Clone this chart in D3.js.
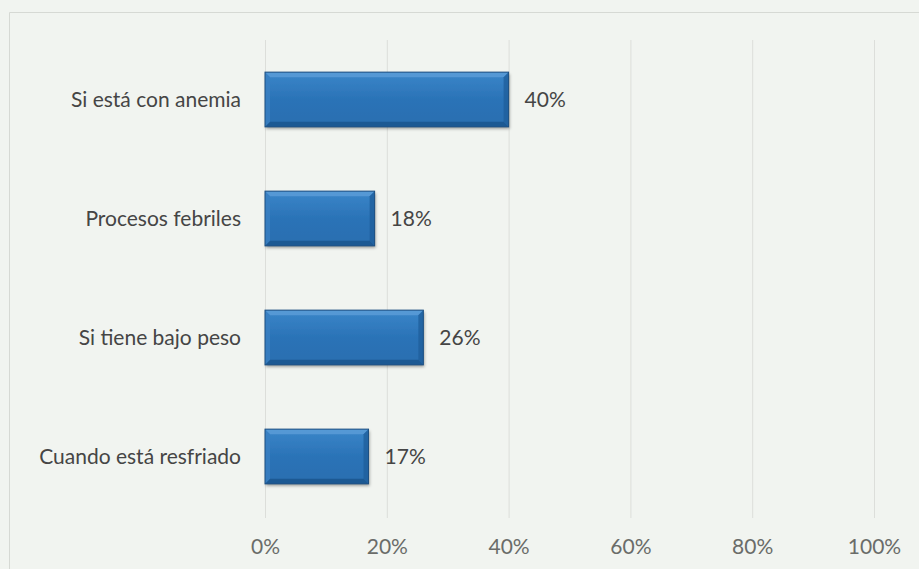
<!DOCTYPE html>
<html><head><meta charset="utf-8">
<script src="https://cdn.jsdelivr.net/npm/d3@7"></script>
<style>
html,body{margin:0;padding:0;background:#f1f4f0;}
svg{display:block;}
text{font-family:Lato,"Open Sans",sans-serif;}
</style></head>
<body>
<svg id="c" width="919" height="569"></svg>
<script>
const categories = ["Si está con anemia","Procesos febriles","Si tiene bajo peso","Cuando está resfriado"];
const values = [40, 18, 26, 17];
const valueLabels = ["40%","18%","26%","17%"];
const ticks = [0,20,40,60,80,100];

const svg = d3.select("#c");
const W = 919, H = 569;
svg.append("rect").attr("width",W).attr("height",H).attr("fill","#f1f4f0");
// chart frame
svg.append("path").attr("d","M9.5,569 V12.5 H919").attr("fill","none").attr("stroke","#d6d9d4").attr("stroke-width",1);

const x = d3.scaleLinear().domain([0,100]).range([265,874]);
const y = d3.scaleBand().domain(categories).range([40,516]).paddingInner(0.54).paddingOuter(0.27);

// gridlines
svg.append("g").selectAll("line").data(ticks).join("line")
  .attr("x1",d=>x(d)+0.5).attr("x2",d=>x(d)+0.5)
  .attr("y1",40).attr("y2",518)
  .attr("stroke","#dcdeda").attr("stroke-width",1);

// axis tick labels
const xAxis = d3.axisBottom(x).tickValues(ticks).tickFormat(d=>d+"%").tickSize(0).tickPadding(0);
const ax = svg.append("g").attr("transform","translate(0,539)").call(xAxis);
ax.select(".domain").remove();
ax.selectAll("text").attr("font-size",21).attr("fill","#6a6c69").attr("font-family","Lato, 'Open Sans', sans-serif");

const defs = svg.append("defs");
const g = defs.append("linearGradient").attr("id","bg").attr("x1",0).attr("x2",0).attr("y1",0).attr("y2",1);
g.append("stop").attr("offset","0%").attr("stop-color","#3a86c9");
g.append("stop").attr("offset","50%").attr("stop-color","#2b73b7");
g.append("stop").attr("offset","100%").attr("stop-color","#296eb0");
const f = defs.append("filter").attr("id","sh").attr("x","-10%").attr("y","-20%").attr("width","130%").attr("height","160%");
f.append("feDropShadow").attr("dx",1).attr("dy",2).attr("stdDeviation",1.5).attr("flood-color","#000").attr("flood-opacity",0.35);

const bars = svg.append("g").selectAll("g").data(categories).join("g");
bars.each(function(c,i){
  const gg = d3.select(this);
  const x0 = x(0), x1 = x(values[i]), y0 = y(c), h = y.bandwidth(), b = 5;
  gg.append("rect").attr("x",x0).attr("y",y0).attr("width",x1-x0).attr("height",h)
    .attr("fill","url(#bg)").attr("filter","url(#sh)");
  gg.append("path").attr("d",`M${x0},${y0} H${x1} L${x1-b},${y0+b} H${x0+b} Z`).attr("fill","#5d9dd8").attr("opacity",0.8);
  gg.append("path").attr("d",`M${x1},${y0} V${y0+h} L${x1-b},${y0+h-b} V${y0+b} Z`).attr("fill","#1f5f9c").attr("opacity",0.8);
  gg.append("path").attr("d",`M${x0},${y0+h} H${x1} L${x1-b},${y0+h-b} H${x0+b} Z`).attr("fill","#1b5690").attr("opacity",0.9);
  gg.append("path").attr("d",`M${x0},${y0} V${y0+h} L${x0+b},${y0+h-b} V${y0+b} Z`).attr("fill","#3a80c2").attr("opacity",0.8);
  gg.append("rect").attr("x",x0).attr("y",y0).attr("width",x1-x0).attr("height",h)
    .attr("fill","none").attr("stroke","#1d4f80").attr("stroke-width",1);
  gg.append("text").attr("x",x1+16).attr("y",y0+h/2).attr("dy","0.35em")
    .attr("font-size",21).attr("fill","#454545").text(valueLabels[i]);
  gg.append("text").attr("x",241).attr("y",y0+h/2).attr("dy","0.35em").attr("text-anchor","end")
    .attr("font-size",21).attr("fill","#454545").text(c);
});
</script>
</body></html>
